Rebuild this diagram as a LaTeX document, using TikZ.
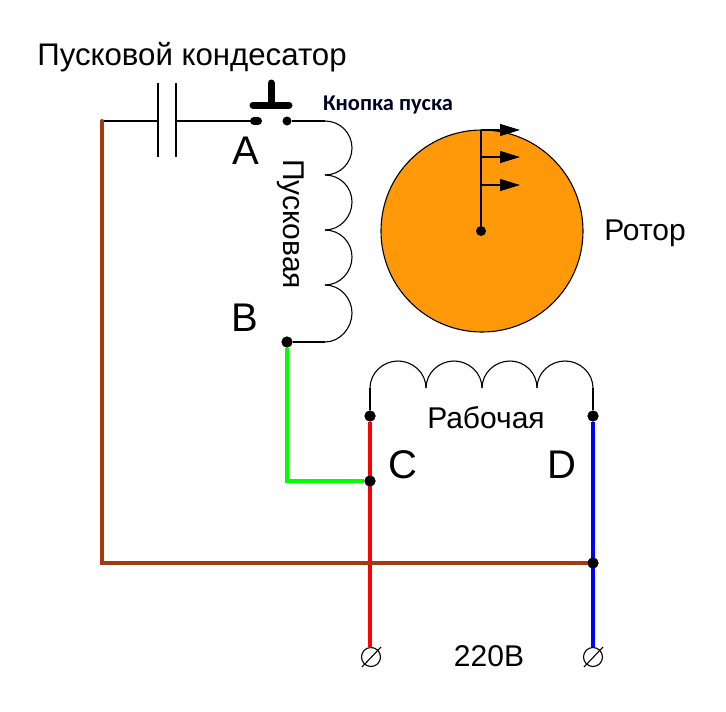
\documentclass[tikz,border=0pt]{standalone}
\usepackage{fontspec}
\setmainfont{Liberation Sans}
\newfontfamily\btnfont{Carlito}
\usetikzlibrary{arrows.meta}
\tikzset{
    wire/.style={line width=1.1pt},
    thickwire/.style={line width=4pt},
    dot/.style={circle, fill, inner sep=0pt, minimum size=11pt},
    terminal/.style={circle, draw, inner sep=0pt, minimum size=19pt, line width=1.1pt},
    midtext/.style={font=\fontsize{30}{32}\selectfont, inner sep=0pt},
    bigtext/.style={font=\fontsize{40}{42}\selectfont, inner sep=0pt},
}
\definecolor{rotorcol}{RGB}{255,153,10}
\definecolor{browncol}{RGB}{160,60,15}
\definecolor{greencol}{RGB}{0,255,0}
\definecolor{bluecol}{RGB}{0,0,255}
\definecolor{redcol}{RGB}{255,0,0}
\begin{document}
\begin{tikzpicture}[x=1pt, y=-1pt]
    \useasboundingbox (0,0) rectangle (726,712);

    % Точки
    \node[dot, minimum size=9pt] (contR) at (287,121) {};
    \node[dot] (dotB) at (287,342) {};
    \node[dot] (dotC) at (370,416) {};
    \node[dot] (dotD) at (593,416) {};
    \node[dot] (dotG) at (370,481) {};
    \node[dot] (dotN) at (593,563) {};
    \node[terminal] (termL) at (371,657) {};
    \node[terminal] (termR) at (593,657) {};
    \coordinate (corner) at (102,121);
    \coordinate (bottom) at (102,563);
    \coordinate (contL) at (256,121);
    \coordinate (plateA) at (158,121);
    \coordinate (plateB) at (176,121);

    % Ротор
    \node[circle, draw, fill=rotorcol, line width=1.1pt, inner sep=0pt, minimum size=202pt] (rotor) at (482,231) {};
    \node[circle, fill, inner sep=0pt, minimum size=10pt] (axis) at (481,231) {};
    \coordinate (top) at (481,130);
    \draw[wire] (axis) -- (top);
    \foreach \y in {130,157,185}
        \draw[wire, -{Triangle[length=20pt, width=12pt]}] (481,\y) -- (520,\y);

    % Конденсатор
    \draw[wire] (corner) -- (plateA);
    \draw[wire] (plateB) -- (contL);
    \draw[wire] (158,83) -- (158,157);
    \draw[wire] (176,83) -- (176,157);

    % Кнопка
    \draw[line width=7pt, line cap=round] (253,105) -- (289,105);
    \draw[line width=7pt, line cap=round] (271,83) -- (271,105);
    \draw[line width=8pt, line cap=round] (254,121) -- (258,121);

    % Пусковая обмотка
    \draw[wire] (contR) -- (325,121);
    \foreach \a/\m/\b in {121/148/175,175/202/230,230/257/285,285/313/342}
        \draw[wire] (325,\a) .. controls (340,\a) and (352,\m-15) .. (352,\m)
            .. controls (352,\m+15) and (340,\b) .. (325,\b);
    \draw[wire] (325,342) -- (dotB);

    % Рабочая обмотка
    \draw[wire] (dotC) -- (370,388);
    \foreach \a/\m/\b in {370/398/426,426/454/482,482/510/537,537/565/593}
        \draw[wire] (\a,388) .. controls (\a,373) and (\m-15,361) .. (\m,361)
            .. controls (\m+15,361) and (\b,373) .. (\b,388);
    \draw[wire] (593,388) -- (dotD);

    % Провода
    \draw[thickwire, draw=greencol] (dotB) -- (287,481) -- (dotG);
    \draw[thickwire, draw=redcol] (dotC) -- (dotC |- termL.north);
    \draw[thickwire, draw=bluecol] (dotD) -- (termR);
    \draw[thickwire, draw=browncol, line cap=round] (corner) -- (bottom) -- (dotN);

    % Точки поверх проводов
    \node[dot] at (dotB) {};
    \node[dot] at (dotC) {};
    \node[dot] at (dotD) {};
    \node[dot] at (dotG) {};
    \node[dot] at (dotN) {};

    % Клеммы
    \draw[wire] (362,667) -- (381,647);
    \draw[wire] (584,667) -- (603,647);

    % Подписи
    \node[midtext, font=\fontsize{31.2}{33}\selectfont] (lblCap) at (192,57) {Пусковой кондесатор};
    \node[font=\btnfont\bfseries\fontsize{22.5}{24}\selectfont, text=black!85!blue, inner sep=0pt] (lblBtn) at (388,105) {Кнопка пуска};
    \node[bigtext] (lblA) at (246,151) {A};
    \node[bigtext] (lblB) at (245,318) {B};
    \node[bigtext] (lblC) at (403,465) {C};
    \node[bigtext] (lblD) at (562,465) {D};
    \node[midtext, rotate=-90] (lblStart) at (291,224) {Пусковая};
    \node[midtext] (lblWork) at (486,418) {Рабочая};
    \node[midtext] (lblRotor) at (645,233) {Ротор};
    \node[midtext] (lblVolt) at (489,656) {220В};
\end{tikzpicture}
\end{document}
